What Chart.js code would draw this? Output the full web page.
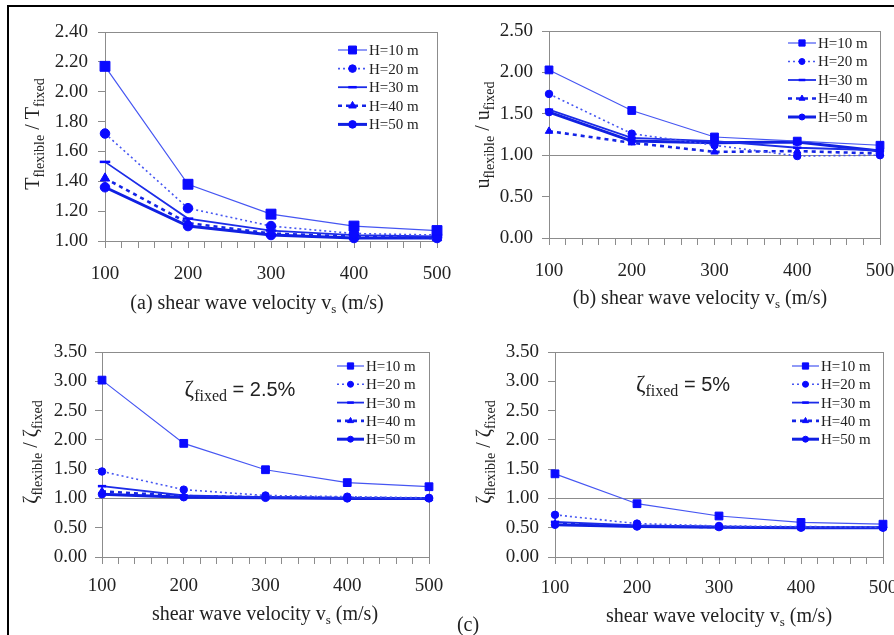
<!DOCTYPE html>
<html>
<head>
<meta charset="utf-8">
<script src="https://cdn.jsdelivr.net/npm/chart.js@4.4.1/dist/chart.umd.min.js"></script>
<style>
  html, body { margin: 0; padding: 0; background: #fff; }
  #page { position: relative; width: 894px; height: 635px; overflow: hidden; }
  #frame { position: absolute; left: 7px; top: 5px; width: 900px; height: 640px;
           border-left: 2px solid #000; border-top: 2px solid #000; }
  canvas { position: absolute; }
</style>
</head>
<body>
<div id="page">
  <div id="frame"></div>
  <canvas id="chartB" width="447" height="318" style="left:447px;top:0"></canvas>
  <canvas id="chartC2" width="447" height="317" style="left:447px;top:318px"></canvas>
  <canvas id="chartA" width="465" height="318" style="left:0;top:0"></canvas>
  <canvas id="chartC1" width="465" height="317" style="left:0;top:318px"></canvas>
</div>
<script>
// ---- data ----
const vs = [100, 200, 300, 400, 500];
const heights = ["H=10 m", "H=20 m", "H=30 m", "H=40 m", "H=50 m"];

// (a) period ratio T_flexible / T_fixed
const tH10 = [2.17, 1.38, 1.18, 1.10, 1.07];
const tH20 = [1.72, 1.22, 1.10, 1.05, 1.04];
const tH30 = [1.53, 1.15, 1.07, 1.04, 1.03];
const tH40 = [1.42, 1.12, 1.05, 1.03, 1.02];
const tH50 = [1.36, 1.10, 1.04, 1.02, 1.02];

// (b) displacement ratio u_flexible / u_fixed
const uH10 = [2.03, 1.54, 1.22, 1.17, 1.12];
const uH20 = [1.74, 1.26, 1.12, 0.99, 1.00];
const uH30 = [1.55, 1.21, 1.17, 1.09, 1.06];
const uH40 = [1.29, 1.15, 1.04, 1.05, 1.02];
const uH50 = [1.52, 1.17, 1.15, 1.16, 1.05];

// (c) damping ratio, zeta_fixed = 2.5%
const z25H10 = [3.02, 1.94, 1.49, 1.27, 1.20];
const z25H20 = [1.46, 1.15, 1.05, 1.03, 1.01];
const z25H30 = [1.21, 1.05, 1.02, 1.01, 1.00];
const z25H40 = [1.12, 1.04, 1.02, 1.01, 1.00];
const z25H50 = [1.07, 1.02, 1.01, 1.00, 1.00];

// (c) damping ratio, zeta_fixed = 5%
const z5H10 = [1.42, 0.91, 0.70, 0.59, 0.56];
const z5H20 = [0.72, 0.57, 0.53, 0.52, 0.51];
const z5H30 = [0.60, 0.54, 0.52, 0.51, 0.50];
const z5H40 = [0.57, 0.53, 0.51, 0.50, 0.50];
const z5H50 = [0.55, 0.52, 0.51, 0.50, 0.50];

// ---- styles ----
const serif = '"Liberation Serif", "Times New Roman", serif';
const sans = '"Liberation Sans", Arial, sans-serif';
const markerBlue = "#0a0aff";
const seriesStyle = [
  { color: "#4656f2", width: 1.2, dash: [], point: "rect", r: 1.0 },
  { color: "#4656f2", width: 1.6, dash: [2, 3], point: "circle", r: 0.68 },
  { color: "#1c2ce8", width: 1.8, dash: [], point: "line", r: 0.75 },
  { color: "#1424e6", width: 2.6, dash: [4, 4], point: "triangle", r: 0.78 },
  { color: "#1020e2", width: 3.0, dash: [], point: "circle", r: 0.68 }
];

function makeDatasets(seriesList, size) {
  return seriesList.map((vals, i) => {
    const st = seriesStyle[i];
    return {
      label: heights[i],
      data: vs.map((v, j) => ({ x: v, y: vals[j] })),
      borderColor: st.color,
      borderWidth: st.width,
      borderDash: st.dash,
      pointStyle: st.point,
      pointRadius: st.r * size,
      pointBackgroundColor: markerBlue,
      pointBorderColor: markerBlue,
      pointBorderWidth: st.point === "line" ? 2.5 : 1,
      tension: 0,
      clip: false
    };
  });
}

// draw a row of text pieces (for subscripts), centred on x,y
function richText(ctx, parts, x, y, rotate) {
  ctx.save();
  ctx.translate(x, y);
  if (rotate) ctx.rotate(-Math.PI / 2);
  let total = 0;
  parts.forEach(p => {
    ctx.font = p[1] + "px " + (p[3] || serif);
    total += ctx.measureText(p[0]).width;
  });
  let cx = -total / 2;
  const base = parts[0][1] * 0.33;
  ctx.fillStyle = "#222";
  ctx.textBaseline = "alphabetic";
  ctx.textAlign = "left";
  parts.forEach(p => {
    ctx.font = p[1] + "px " + (p[3] || serif);
    ctx.fillText(p[0], cx, base + (p[2] || 0));
    cx += ctx.measureText(p[0]).width;
  });
  ctx.restore();
}

const decoPlugin = {
  id: "deco",
  beforeDatasetsDraw(chart, args, opts) {
    const { ctx, chartArea: a } = chart;
    ctx.save();
    ctx.strokeStyle = "#8c8c8c";
    ctx.lineWidth = 1;
    if (opts.refLine !== undefined) {
      const y = Math.round(chart.scales.y.getPixelForValue(opts.refLine)) + 0.5;
      ctx.beginPath();
      ctx.moveTo(a.left, y);
      ctx.lineTo(a.right, y);
      ctx.stroke();
    }
    ctx.strokeRect(Math.round(a.left) + 0.5, Math.round(a.top) + 0.5,
                   Math.round(a.right - a.left), Math.round(a.bottom - a.top));
    ctx.restore();
  },
  afterDraw(chart, args, opts) {
    const ctx = chart.ctx;
    // legend: line sample with marker, then label
    const lg = opts.legend;
    chart.data.datasets.forEach((ds, i) => {
      const y = lg.y + i * lg.step;
      ctx.save();
      ctx.strokeStyle = ds.borderColor;
      ctx.lineWidth = ds.borderWidth;
      ctx.setLineDash(ds.borderDash);
      ctx.beginPath();
      ctx.moveTo(lg.x, y);
      ctx.lineTo(lg.x + lg.len, y);
      ctx.stroke();
      ctx.setLineDash([]);
      ctx.fillStyle = markerBlue;
      ctx.strokeStyle = markerBlue;
      ctx.lineWidth = ds.pointBorderWidth;
      Chart.helpers.drawPoint(ctx, {
        pointStyle: ds.pointStyle, radius: ds.pointRadius * 0.8,
        rotation: 0, borderWidth: ds.pointBorderWidth
      }, lg.x + lg.len / 2, y);
      ctx.fillStyle = "#222";
      ctx.font = "15px " + serif;
      ctx.textBaseline = "middle";
      ctx.textAlign = "left";
      ctx.fillText(ds.label, lg.x + lg.len + 2, y + 1);
      ctx.restore();
    });
    (opts.texts || []).forEach(t => richText(ctx, t.parts, t.x, t.y, t.rotate));
  }
};

function makeChart(id, seriesList, cfg) {
  new Chart(document.getElementById(id), {
    type: "line",
    data: { datasets: makeDatasets(seriesList, cfg.marker) },
    plugins: [decoPlugin],
    options: {
      responsive: false,
      animation: false,
      events: [],
      layout: { padding: { left: 0, top: cfg.top, right: cfg.right, bottom: 0 } },
      scales: {
        x: {
          type: "linear",
          min: 100, max: 500,
          afterFit: s => { s.height = cfg.xHeight; s.paddingLeft = 0; s.paddingRight = 0; },
          border: { color: "#8c8c8c" },
          grid: { drawOnChartArea: false, tickLength: 7, color: "#8c8c8c" },
          ticks: {
            stepSize: 20, autoSkip: false, maxTicksLimit: 30, maxRotation: 0,
            padding: cfg.xPad, color: "#222",
            font: { family: serif, size: 19 },
            callback: v => (v % 100 === 0 ? String(v) : "")
          }
        },
        y: {
          min: cfg.yMin, max: cfg.yMax,
          afterFit: s => { s.width = cfg.yWidth; s.paddingTop = 0; s.paddingBottom = 0; },
          border: { color: "#8c8c8c" },
          grid: { drawOnChartArea: false, tickLength: 7, color: "#8c8c8c" },
          ticks: {
            stepSize: cfg.yStep, padding: cfg.yPad, color: "#222",
            font: { family: serif, size: 19 },
            callback: v => v.toFixed(2)
          }
        }
      },
      plugins: {
        legend: { display: false },
        tooltip: { enabled: false },
        deco: { refLine: cfg.refLine, legend: cfg.legend, texts: cfg.texts }
      }
    }
  });
}

makeChart("chartA", [tH10, tH20, tH30, tH40, tH50], {
  top: 32, right: 28, xHeight: 77, yWidth: 105, xPad: 15, yPad: 10,
  yMin: 1, yMax: 2.4, yStep: 0.2, marker: 7,
  legend: { x: 338, y: 50, step: 18.6, len: 29 },
  texts: [
    { x: 32, y: 134, rotate: true,
      parts: [["T", 20], ["flexible", 14, 5], [" / T", 20], ["fixed", 14, 5]] },
    { x: 257, y: 302,
      parts: [["(a) shear wave velocity v", 20], ["s", 13, 4], [" (m/s)", 20]] }
  ]
});

makeChart("chartB", [uH10, uH20, uH30, uH40, uH50], {
  top: 31, right: 14, xHeight: 80, yWidth: 102, xPad: 15, yPad: 9,
  yMin: 0, yMax: 2.5, yStep: 0.5, marker: 5.5, refLine: 1,
  legend: { x: 788 - 447, y: 43, step: 18.5, len: 28 },
  texts: [
    { x: 482 - 447, y: 135, rotate: true,
      parts: [["u", 20], ["flexible", 14, 5], [" / u", 20], ["fixed", 14, 5]] },
    { x: 700 - 447, y: 297,
      parts: [["(b)", 20], [" shear wave velocity v", 20], ["s", 13, 4], [" (m/s)", 20]] }
  ]
});

makeChart("chartC1", [z25H10, z25H20, z25H30, z25H40, z25H50], {
  top: 34, right: 36, xHeight: 78, yWidth: 102, xPad: 11, yPad: 8,
  yMin: 0, yMax: 3.5, yStep: 0.5, marker: 5.5, refLine: 1,
  legend: { x: 337, y: 366 - 318, step: 18.3, len: 27 },
  texts: [
    { x: 30, y: 452 - 318, rotate: true,
      parts: [["ζ", 20], ["flexible", 14, 5], [" / ζ", 20], ["fixed", 14, 5]] },
    { x: 240, y: 388 - 318,
      parts: [["ζ", 23], ["fixed", 16, 5], [" = 2.5%", 20, 0, sans]] },
    { x: 265, y: 613 - 318,
      parts: [["shear wave velocity v", 20], ["s", 13, 4], [" (m/s)", 20]] }
  ]
});

makeChart("chartC2", [z5H10, z5H20, z5H30, z5H40, z5H50], {
  top: 34, right: 11, xHeight: 78, yWidth: 108, xPad: 13, yPad: 9,
  yMin: 0, yMax: 3.5, yStep: 0.5, marker: 5.5, refLine: 1,
  legend: { x: 792 - 447, y: 366 - 318, step: 18.3, len: 27 },
  texts: [
    { x: 483 - 447, y: 452 - 318, rotate: true,
      parts: [["ζ", 20], ["flexible", 14, 5], [" / ζ", 20], ["fixed", 14, 5]] },
    { x: 683 - 447, y: 383 - 318,
      parts: [["ζ", 23], ["fixed", 16, 5], [" = 5%", 20, 0, sans]] },
    { x: 719 - 447, y: 615 - 318,
      parts: [["shear wave velocity v", 20], ["s", 13, 4], [" (m/s)", 20]] },
    { x: 468 - 447, y: 624 - 318, parts: [["(c)", 20]] }
  ]
});
</script>
</body>
</html>
